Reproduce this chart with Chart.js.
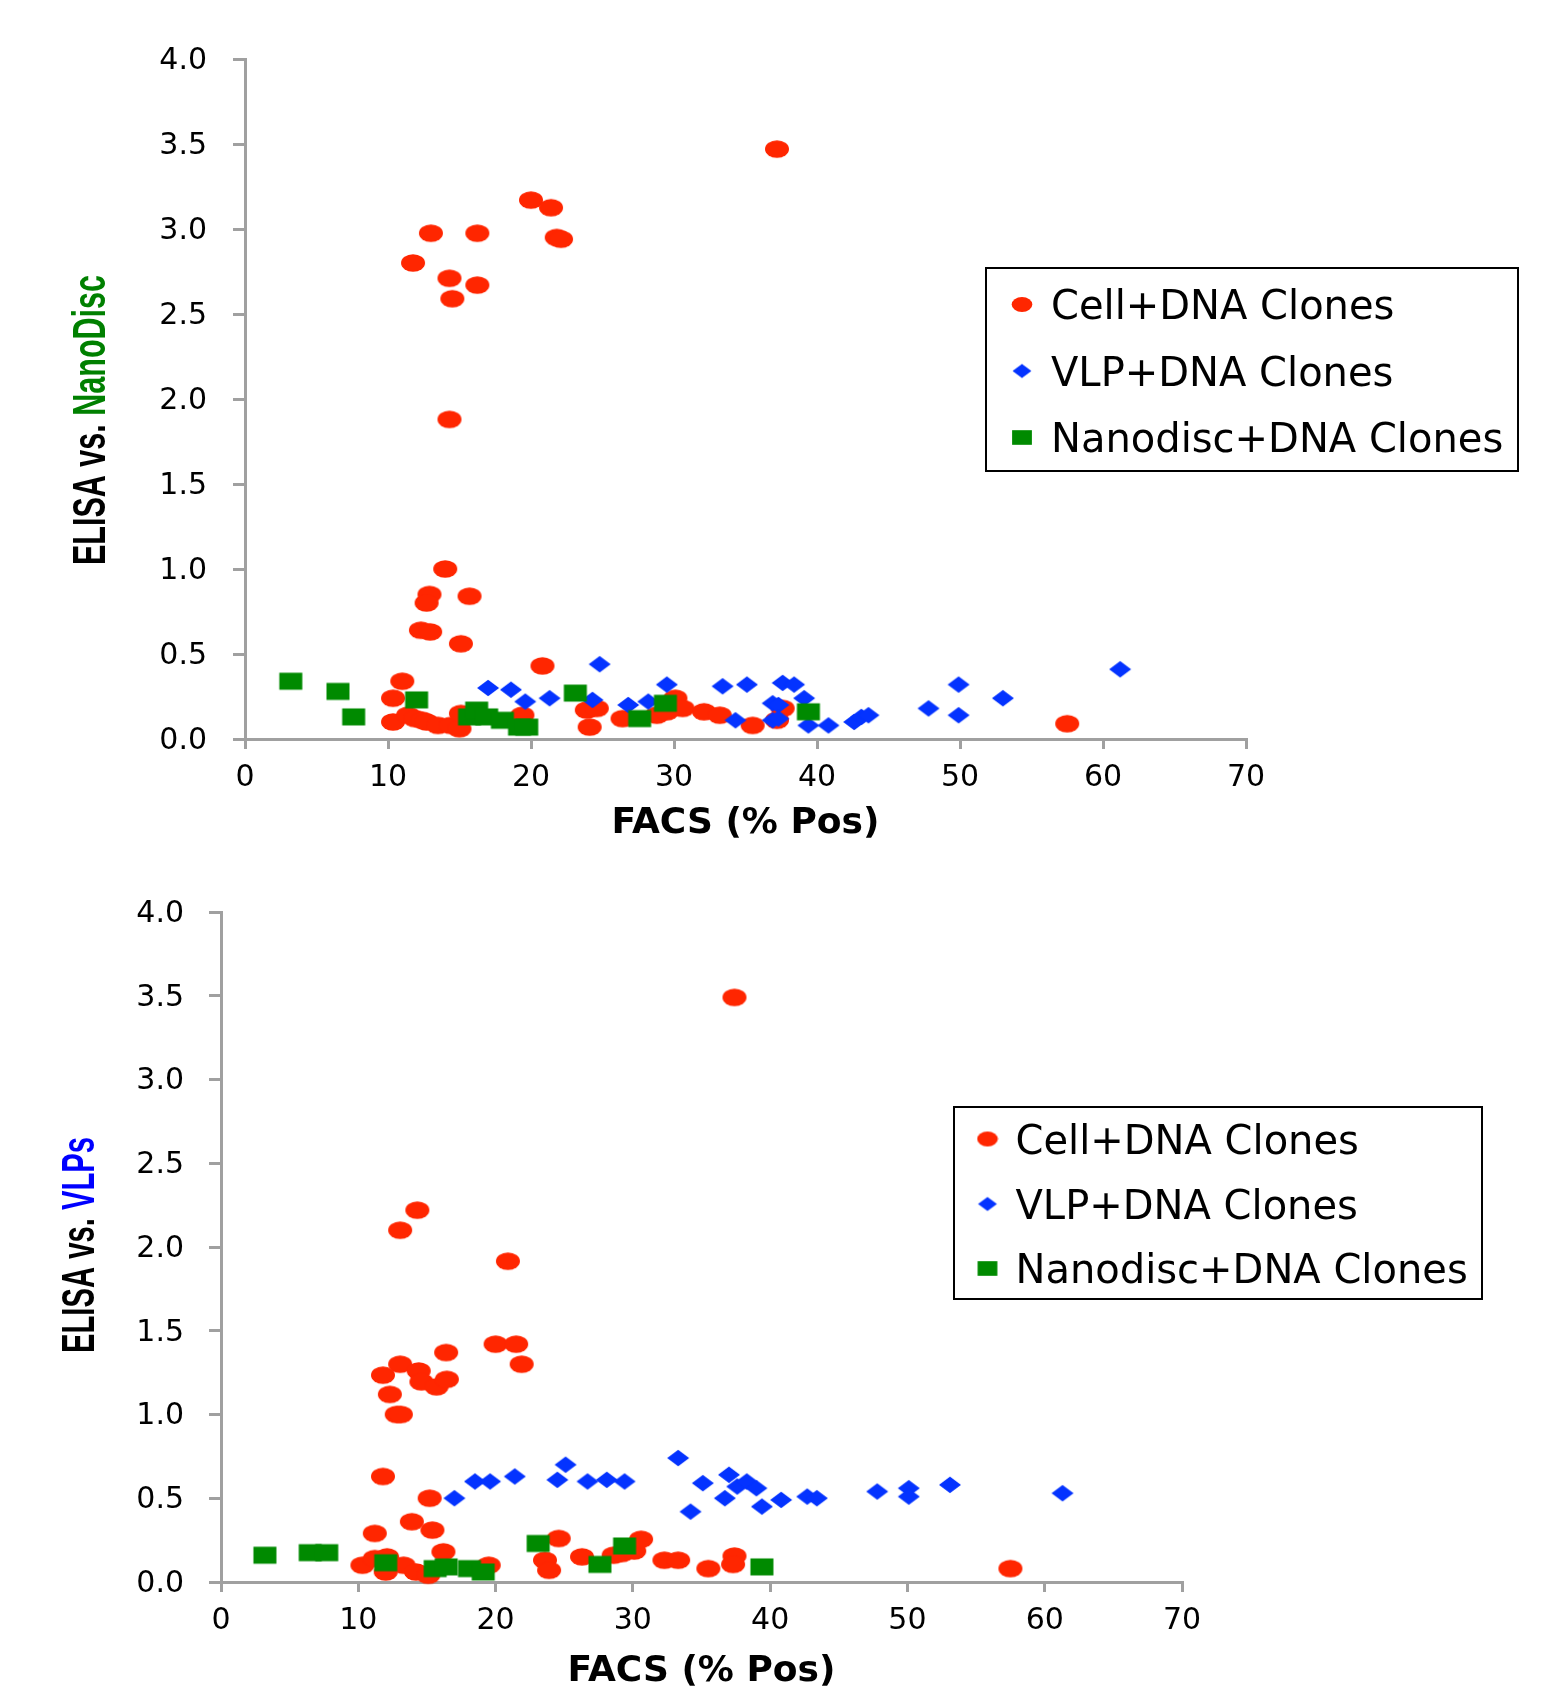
<!DOCTYPE html>
<html>
<head>
<meta charset="utf-8">
<script src="https://cdn.jsdelivr.net/npm/chart.js@4.4.1/dist/chart.umd.min.js"></script>
<style>
  html, body { margin: 0; padding: 0; background: #fff; }
  #wrap { position: relative; width: 1556px; height: 1688px; overflow: hidden; }
  canvas { position: absolute; left: 0; }
  #chartNano { top: 0; }
  #chartVlp { top: 847px; }
</style>
</head>
<body>
<div id="wrap">
  <canvas id="chartNano" width="1556" height="845"></canvas>
  <canvas id="chartVlp" width="1556" height="848"></canvas>
</div>
<script>
// ================== DATA ================ //
const SERIES_LABELS = ["Cell+DNA Clones", "VLP+DNA Clones", "Nanodisc+DNA Clones"];
const X_TICKS = [0, 10, 20, 30, 40, 50, 60, 70];
const Y_TICKS = [0, 0.5, 1, 1.5, 2, 2.5, 3, 3.5, 4];

// ELISA vs. NanoDisc  -> [FACS % pos, ELISA]
const NANO_CELL = [
  [37.2, 3.47], [20.0, 3.17], [21.4, 3.125], [21.8, 2.95], [22.1, 2.94],
  [13.0, 2.975], [16.25, 2.975], [11.75, 2.8], [14.3, 2.71], [16.25, 2.67],
  [14.5, 2.59], [14.3, 1.88], [14.0, 1.0], [12.9, 0.85], [12.7, 0.8],
  [15.7, 0.84], [12.3, 0.64], [12.95, 0.63], [15.1, 0.56], [20.8, 0.43],
  [11.0, 0.34], [10.35, 0.24], [10.35, 0.1], [11.4, 0.14], [11.9, 0.12],
  [12.4, 0.11], [12.7, 0.1], [13.5, 0.08], [14.4, 0.08], [15.0, 0.06],
  [15.1, 0.15], [19.4, 0.14], [23.9, 0.17], [24.6, 0.18], [24.1, 0.07],
  [26.4, 0.12], [28.8, 0.14], [29.5, 0.16], [30.1, 0.24], [30.6, 0.18],
  [32.1, 0.16], [33.2, 0.14], [35.5, 0.08], [37.2, 0.11], [37.6, 0.18],
  [57.5, 0.09],
];
const NANO_VLP = [
  [17.0, 0.3], [18.6, 0.29], [19.6, 0.22], [21.3, 0.24], [24.8, 0.44],
  [24.3, 0.23], [26.8, 0.2], [28.2, 0.22], [29.5, 0.32], [33.4, 0.31],
  [35.1, 0.32], [34.3, 0.11], [37.6, 0.33], [38.4, 0.32], [39.1, 0.24],
  [36.9, 0.21], [37.3, 0.2], [36.9, 0.11], [37.3, 0.12], [39.4, 0.08],
  [40.8, 0.08], [42.6, 0.1], [43.1, 0.13], [43.6, 0.14], [47.8, 0.18],
  [49.9, 0.32], [49.9, 0.14], [53.0, 0.24], [61.2, 0.41],
];
const NANO_NANO = [
  [3.2, 0.34], [6.5, 0.28], [7.6, 0.13], [12.0, 0.23], [15.7, 0.13],
  [16.2, 0.17], [16.9, 0.13], [18.0, 0.11], [19.2, 0.07], [19.7, 0.07],
  [23.1, 0.27], [27.6, 0.12], [29.4, 0.21], [39.4, 0.16],
];

// ELISA vs. VLPs  -> [FACS % pos, ELISA]
const VLP_CELL = [
  [37.4, 3.49], [14.3, 2.22], [13.05, 2.1], [20.9, 1.915], [20.0, 1.42],
  [21.5, 1.42], [21.9, 1.3], [16.4, 1.37], [13.05, 1.3], [14.4, 1.26],
  [11.8, 1.235], [14.6, 1.195], [15.7, 1.165], [16.45, 1.21], [12.3, 1.12],
  [12.8, 1.0], [13.1, 1.0], [11.8, 0.63], [15.2, 0.5], [13.9, 0.36],
  [15.4, 0.31], [11.2, 0.29], [16.2, 0.18], [10.3, 0.1], [11.2, 0.14],
  [12.1, 0.15], [12.0, 0.06], [13.3, 0.1], [14.2, 0.06], [15.1, 0.04],
  [19.5, 0.1], [24.6, 0.26], [23.6, 0.13], [23.9, 0.07], [26.3, 0.15],
  [28.6, 0.16], [29.2, 0.17], [30.1, 0.185], [30.6, 0.255], [32.3, 0.13],
  [33.3, 0.13], [35.5, 0.08], [37.4, 0.155], [37.3, 0.105], [57.5, 0.08],
];
const VLP_VLP = [
  [17.0, 0.5], [18.5, 0.6], [19.6, 0.6], [21.4, 0.63], [25.1, 0.7],
  [24.5, 0.61], [26.7, 0.6], [28.1, 0.61], [29.4, 0.6], [33.3, 0.74],
  [35.1, 0.59], [34.2, 0.42], [37.0, 0.64], [37.6, 0.57], [38.3, 0.6],
  [39.0, 0.56], [36.7, 0.5], [39.4, 0.45], [40.8, 0.49], [42.7, 0.51],
  [43.4, 0.5], [47.8, 0.54], [50.1, 0.56], [50.1, 0.51], [53.1, 0.58],
  [61.3, 0.53],
];
const VLP_NANO = [
  [3.2, 0.16], [6.5, 0.175], [7.7, 0.175], [12.0, 0.115], [15.6, 0.08],
  [16.4, 0.09], [18.1, 0.08], [19.1, 0.06], [23.1, 0.23], [27.6, 0.105],
  [29.4, 0.215], [39.4, 0.09],
];

// ================== STYLE ================ //
const COLORS = { cell: "#ff2600", vlp: "#0433ff", nano: "#008a00" };
const AXIS_GREY = "#a0a0a0";
const TICK_FONT = { family: "'DejaVu Sans', Verdana, sans-serif", size: 30 };

function markerCanvas(kind, s) {
  const w = Math.round(26 * s), h = Math.round(20 * s);
  const c = document.createElement("canvas");
  c.width = w;
  c.height = h;
  const ctx = c.getContext("2d");
  if (kind === "circle") {
    ctx.fillStyle = COLORS.cell;
    ctx.beginPath();
    ctx.ellipse(w / 2, h / 2, 12 * s, 8.7 * s, 0, 0, Math.PI * 2);
    ctx.fill();
  } else if (kind === "diamond") {
    ctx.fillStyle = COLORS.vlp;
    ctx.beginPath();
    ctx.moveTo(w / 2, h / 2 - 8.2 * s);
    ctx.lineTo(w / 2 + 11 * s, h / 2);
    ctx.lineTo(w / 2, h / 2 + 8.2 * s);
    ctx.lineTo(w / 2 - 11 * s, h / 2);
    ctx.closePath();
    ctx.fill();
  } else {
    ctx.fillStyle = COLORS.nano;
    ctx.fillRect(w / 2 - 11.5 * s, h / 2 - 8.5 * s, 23 * s, 17 * s);
  }
  return c;
}

const MARKERS = [markerCanvas("circle", 1), markerCanvas("diamond", 1), markerCanvas("square", 1)];
const LEGEND_MARKERS = [markerCanvas("circle", 0.86), markerCanvas("diamond", 0.86), markerCanvas("square", 0.86)];

// y title (two colours) + boxed legend, drawn on top of the chart
const overlayPlugin = {
  id: "overlay",
  afterDraw(chart, args, opts) {
    const ctx = chart.ctx;

    ctx.save();
    const tSize = 46;
    ctx.font = "bold " + tSize + "px 'Liberation Sans', Arial, sans-serif";
    const widths = opts.titleParts.map((p) => ctx.measureText(p.text).width);
    const total = widths.reduce((a, b) => a + b, 0);
    const capH = tSize * 0.716;
    ctx.translate(opts.titleX, opts.titleY);
    ctx.rotate(-Math.PI / 2);
    ctx.scale(opts.titleLen / total, 1);
    ctx.textAlign = "left";
    ctx.textBaseline = "alphabetic";
    let u = -total / 2;
    opts.titleParts.forEach((p, i) => {
      ctx.fillStyle = p.color;
      ctx.fillText(p.text, u, capH / 2);
      u += widths[i];
    });
    ctx.restore();

    const [l, t, r, b] = opts.legendBox;
    ctx.save();
    ctx.strokeStyle = "#000";
    ctx.lineWidth = 2;
    ctx.strokeRect(l, t, r - l, b - t);
    const lSize = 40;
    ctx.font = lSize + "px 'DejaVu Sans', Verdana, sans-serif";
    ctx.fillStyle = "#000";
    ctx.textAlign = "left";
    ctx.textBaseline = "alphabetic";
    chart.data.datasets.forEach((ds, i) => {
      const y = opts.rowY[i];
      const m = LEGEND_MARKERS[i];
      ctx.drawImage(m, opts.markerX - m.width / 2, y - m.height / 2);
      ctx.fillText(ds.label, opts.textX, y + (lSize * 0.729) / 2);
    });
    ctx.restore();
  },
};

function toPoints(arr) {
  return arr.map(([x, y]) => ({ x, y }));
}

function buildDatasets(cell, vlp, nano) {
  const order = [2, 1, 0];
  return [cell, vlp, nano].map((arr, i) => ({
    label: SERIES_LABELS[i],
    data: toPoints(arr),
    pointStyle: MARKERS[i],
    pointRadius: 10,
    pointHoverRadius: 10,
    showLine: false,
    clip: false,
    order: order[i],
  }));
}

function axisGrid(tickLength) {
  return {
    display: true,
    drawOnChartArea: false,
    drawTicks: true,
    tickLength,
    tickWidth: 3,
    tickColor: AXIS_GREY,
    color: AXIS_GREY,
    lineWidth: 3,
  };
}

function renderChart(canvasId, datasets, lay) {
  const canvas = document.getElementById(canvasId);
  return new Chart(canvas, {
    type: "scatter",
    data: { datasets },
    options: {
      responsive: false,
      animation: false,
      devicePixelRatio: 1,
      events: [],
      layout: { padding: { top: lay.padTop, right: lay.padRight, left: 0, bottom: 0 } },
      plugins: {
        legend: { display: false },
        tooltip: { enabled: false },
        overlay: lay.overlay,
      },
      scales: {
        x: {
          type: "linear",
          min: 0,
          max: 70,
          afterBuildTicks: (s) => { s.ticks = X_TICKS.map((v) => ({ value: v })); },
          afterFit: (s) => { s.height = lay.xHeight; },
          grid: axisGrid(10),
          border: { display: true, color: AXIS_GREY, width: 3 },
          ticks: {
            color: "#000",
            font: TICK_FONT,
            padding: 11,
            maxRotation: 0,
            autoSkip: false,
          },
          title: {
            display: true,
            text: "FACS (% Pos)",
            color: "#000",
            font: { family: "'DejaVu Sans', Verdana, sans-serif", size: 36, weight: "bold" },
            padding: { top: 0, bottom: lay.xTitlePad },
          },
        },
        y: {
          type: "linear",
          min: 0,
          max: 4,
          afterBuildTicks: (s) => { s.ticks = Y_TICKS.map((v) => ({ value: v })); },
          afterFit: (s) => { s.width = lay.yWidth; },
          grid: axisGrid(12),
          border: { display: true, color: AXIS_GREY, width: 3 },
          ticks: {
            color: "#000",
            font: TICK_FONT,
            padding: lay.yTickPad,
            labelOffset: 2,
            callback: (v) => Number(v).toFixed(1),
          },
          title: { display: false },
        },
      },
    },
    plugins: [overlayPlugin],
  });
}

// ================== INIT CHARTS ================= //
renderChart("chartNano", buildDatasets(NANO_CELL, NANO_VLP, NANO_NANO), {
  padTop: 59,
  padRight: 310,
  yWidth: 245,
  xHeight: 106,
  xTitlePad: 0,
  yTickPad: 26,
  overlay: {
    titleParts: [{ text: "ELISA vs. ", color: "#000" }, { text: "NanoDisc", color: "#008000" }],
    titleX: 88.5,
    titleY: 420,
    titleLen: 290,
    legendBox: [986, 268, 1518, 471],
    markerX: 1022,
    textX: 1051,
    rowY: [304.5, 371, 437.5],
  },
});

renderChart("chartVlp", buildDatasets(VLP_CELL, VLP_VLP, VLP_NANO), {
  padTop: 65,
  padRight: 374,
  yWidth: 221,
  xHeight: 113,
  xTitlePad: 2,
  yTickPad: 25,
  overlay: {
    titleParts: [{ text: "ELISA vs. ", color: "#000" }, { text: "VLPs", color: "#0000ff" }],
    titleX: 78,
    titleY: 398,
    titleLen: 216,
    legendBox: [954, 260, 1482, 452],
    markerX: 987.5,
    textX: 1015.5,
    rowY: [292, 357, 421.5],
  },
});
</script>
</body>
</html>
